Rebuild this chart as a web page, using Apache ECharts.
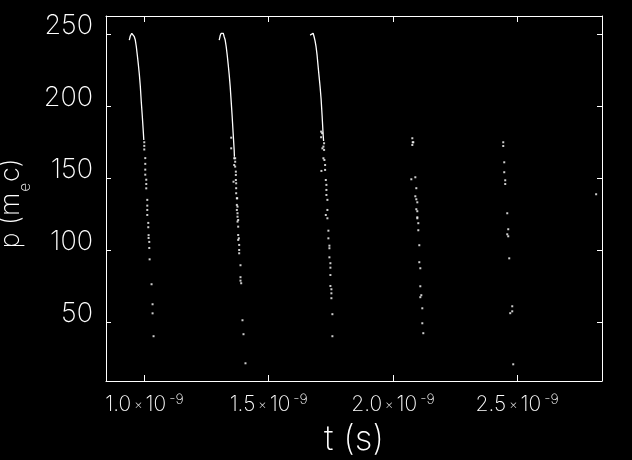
<!DOCTYPE html>
<html>
<head>
<meta charset="utf-8">
<script src="https://cdn.jsdelivr.net/npm/echarts@6/dist/echarts.min.js"></script>
<style>
html,body{margin:0;padding:0;background:#000;}
#chart{width:632px;height:460px;}
</style>
</head>
<body>
<div id="chart"></div>
<script>
// time in units of 1e-9 s, momentum in m_e c
const xTicks = [1.0, 1.5, 2.0, 2.5];
const yTicks = [50, 100, 150, 200, 250];

// dense (continuous-looking) parts of the first three bunches
const c1T = [0.9388, 0.9428, 0.9488, 0.9549, 0.9589, 0.9630, 0.9670, 0.9710, 0.9750, 0.9791, 0.9831, 0.9871, 0.9911, 0.9952, 0.9972];
const c1P = [246.0, 248.8, 250.7, 250.7, 248.3, 246.0, 241.5, 235.6, 229.4, 222.4, 214.1, 203.0, 193.3, 182.2, 176.6];
const c2T = [1.3008, 1.3048, 1.3088, 1.3169, 1.3209, 1.3249, 1.3289, 1.3330, 1.3370, 1.3410, 1.3450, 1.3490, 1.3531, 1.3571, 1.3611, 1.3620];
const c2P = [246.0, 249.1, 250.7, 250.7, 248.3, 246.0, 241.5, 235.6, 229.0, 222.1, 213.8, 203.4, 192.5, 180.7, 169.5, 165.0];
const c3T = [1.6668, 1.6708, 1.6789, 1.6829, 1.6869, 1.6909, 1.6950, 1.6990, 1.7030, 1.7070, 1.7111, 1.7151, 1.7191, 1.7211];
const c3P = [249.4, 250.7, 250.7, 248.3, 245.3, 241.2, 235.3, 227.8, 220.6, 213.6, 204.9, 193.4, 180.8, 175.9];

// sparse particles
const d1T = [0.9991, 0.9991, 0.9991, 1.0031, 1.0031, 1.0031, 1.0031, 1.0071, 1.0071, 1.0071, 1.0112, 1.0112, 1.0112, 1.0112, 1.0152, 1.0152, 1.0165, 1.0165, 1.0192, 1.0192, 1.0206, 1.0284, 1.0325, 1.0325, 1.0365];
const d1P = [175.0, 172.5, 170.0, 164.0, 160.0, 156.0, 152.5, 149.0, 146.0, 143.0, 135.0, 131.0, 128.0, 124.5, 119.0, 116.0, 110.5, 108.5, 105.8, 101.6, 93.7, 76.4, 62.5, 56.2, 40.3];
const d2T = [1.3611, 1.3651, 1.3651, 1.3611, 1.3651, 1.3678, 1.3678, 1.3584, 1.3678, 1.3691, 1.3691, 1.3691, 1.3718, 1.3732, 1.3718, 1.3745, 1.3718, 1.3745, 1.3745, 1.3772, 1.3745, 1.3772, 1.3772, 1.3799, 1.3772, 1.3812, 1.3812, 1.3812, 1.3865, 1.3865, 1.3865, 1.3893, 1.3945, 1.3986, 1.4066, 1.3491, 1.3491];
const d2P = [163.9, 163.9, 161.5, 159.2, 158.1, 154.6, 152.3, 147.6, 148.8, 146.5, 143.1, 139.6, 136.1, 136.1, 131.5, 130.3, 128.0, 125.7, 123.3, 121.0, 119.9, 116.4, 110.6, 108.3, 107.2, 103.7, 100.2, 97.9, 89.6, 81.3, 78.9, 77.1, 51.4, 41.7, 21.5, 178.2, 170.8];
const d3T = [1.7111, 1.7151, 1.7111, 1.7231, 1.7203, 1.7163, 1.7231, 1.7203, 1.7243, 1.7123, 1.7272, 1.7272, 1.7300, 1.7324, 1.7324, 1.7324, 1.7364, 1.7364, 1.7300, 1.7364, 1.7404, 1.7404, 1.7445, 1.7445, 1.7445, 1.7485, 1.7485, 1.7485, 1.7485, 1.7525, 1.7525, 1.7525, 1.7565, 1.7565];
const d3P = [182.4, 181.3, 178.5, 174.3, 172.0, 170.8, 169.7, 163.9, 162.7, 155.1, 159.2, 155.8, 148.8, 145.4, 141.9, 138.4, 135.0, 128.0, 124.5, 122.2, 113.6, 108.3, 103.2, 101.4, 95.1, 91.0, 87.9, 82.8, 75.2, 72.9, 70.1, 66.7, 55.6, 40.3];
const d4T = [2.0783, 2.0799, 2.0823, 2.0783, 2.0904, 2.0743, 2.0944, 2.0904, 2.0944, 2.0984, 2.0944, 2.0984, 2.0984, 2.0984, 2.1024, 2.1024, 2.1064, 2.1064, 2.1105, 2.1105, 2.1145, 2.1105, 2.1185, 2.1185, 2.1225];
const d4P = [177.8, 175.0, 175.0, 173.1, 150.7, 149.3, 143.1, 137.5, 135.4, 133.3, 128.5, 127.1, 122.9, 122.2, 118.8, 113.9, 103.5, 91.7, 87.5, 75.0, 68.8, 67.4, 59.7, 49.3, 42.4];
const d5T = [2.4444, 2.4444, 2.4484, 2.4484, 2.4524, 2.4524, 2.4605, 2.4645, 2.4605, 2.4645, 2.4685, 2.4806, 2.4806, 2.4725, 2.4846];
const d5P = [175.0, 172.4, 161.1, 154.2, 148.6, 146.0, 125.7, 114.6, 111.1, 109.7, 94.4, 61.1, 57.6, 56.3, 20.8];
const d6T = [2.8184];
const d6P = [138.9];

const zip = (a, b) => a.map((v, i) => [v, b[i]]);
const FONT = 'Inter';
const FW = 200;
const WHITE = '#ffffff';

const curves = [[c1T, c1P], [c2T, c2P], [c3T, c3P]];
const dots = [[d1T, d1P], [d2T, d2P], [d3T, d3P], [d4T, d4P], [d5T, d5P], [d6T, d6P]];

const series = [];
curves.forEach(([t, p]) => series.push({
  type: 'line', data: zip(t, p), showSymbol: false, symbol: 'none',
  lineStyle: {color: WHITE, width: 1.3}, silent: true, animation: false
}));
series.push({
  type: 'scatter', symbol: 'rect', symbolSize: [2, 2],
  itemStyle: {color: WHITE},
  data: dots.flatMap(([t, p]) => zip(t, p)), silent: true, animation: false
});

const xBase = {
  type: 'value', min: 0.845, max: 2.842,
  axisLine: {show: true, lineStyle: {color: WHITE, width: 1}},
  axisTick: {show: true, inside: true, length: 6, customValues: xTicks, lineStyle: {color: WHITE, width: 1}},
  splitLine: {show: false}
};
const yBase = {
  type: 'value', min: 9.2, max: 262.7,
  axisLine: {show: true, lineStyle: {color: WHITE, width: 1}},
  axisTick: {show: true, inside: true, length: 5, customValues: yTicks, lineStyle: {color: WHITE, width: 1}},
  splitLine: {show: false}
};

const option = {
  backgroundColor: '#000000',
  animation: false,
  grid: {left: 106, right: 30, top: 16, bottom: 79, containLabel: false, outerBoundsMode: 'none'},
  xAxis: [
    Object.assign({}, xBase, {
      position: 'bottom',
      axisLabel: {
        customValues: xTicks, margin: 12, color: WHITE, fontFamily: FONT, fontWeight: FW, fontSize: 21,
        formatter: v => v.toFixed(1) + '{x|×}10{sup|-9}',
        rich: {
          x: {fontSize: 13, fontFamily: FONT, fontWeight: FW, color: WHITE, padding: [0, 3, 0, 3]},
          sup: {fontSize: 14, fontFamily: FONT, fontWeight: FW, color: WHITE, verticalAlign: 'top', lineHeight: 24, padding: [0, 0, 0, 3]}
        }
      },
      name: 't (s)', nameLocation: 'middle', nameGap: 41,
      nameTextStyle: {color: WHITE, fontFamily: FONT, fontWeight: FW, fontSize: 35}
    }),
    Object.assign({}, xBase, {position: 'top', axisLabel: {show: false}})
  ],
  yAxis: [
    Object.assign({}, yBase, {
      position: 'left',
      axisLabel: {
        customValues: yTicks, margin: 13, color: WHITE, fontFamily: FONT, fontWeight: FW, fontSize: 27,
        verticalAlign: 'bottom', lineHeight: 16
      },
      name: 'p (m{sub|e}c)', nameLocation: 'middle', nameGap: 80, nameRotate: 90,
      nameTextStyle: {
        color: WHITE, fontFamily: FONT, fontWeight: FW, fontSize: 27, padding: [0, 10, 0, 0],
        rich: {
          sub: {fontSize: 15, fontFamily: FONT, fontWeight: FW, color: WHITE, verticalAlign: 'bottom', lineHeight: 14, padding: [0, 1, -8, 1]}
        }
      }
    }),
    Object.assign({}, yBase, {position: 'right', axisLabel: {show: false}})
  ],
  series: series
};

const chart = echarts.init(document.getElementById('chart'), null, {renderer: 'canvas'});
chart.setOption(option);
</script>
</body>
</html>
